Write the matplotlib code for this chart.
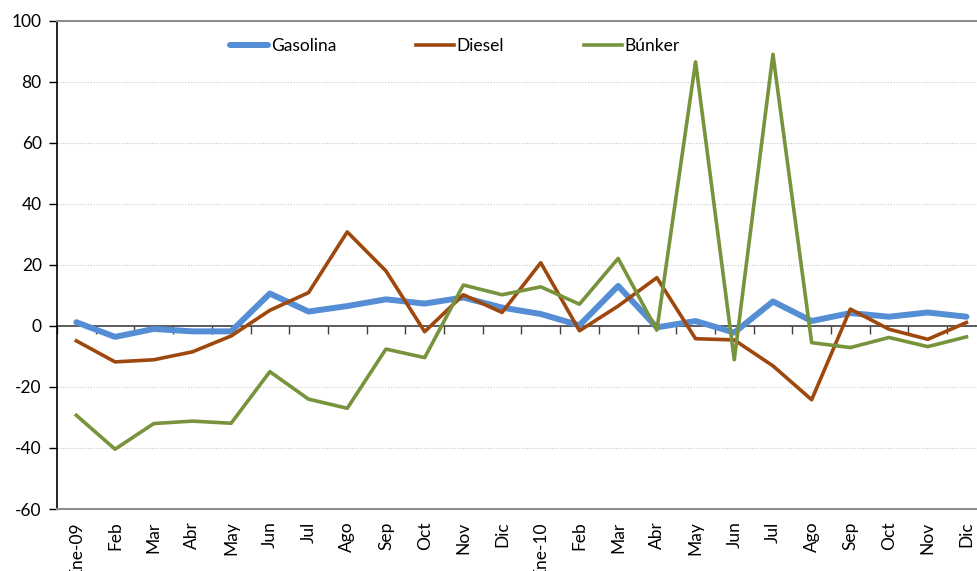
import matplotlib
matplotlib.use("Agg")
import matplotlib.pyplot as plt
import numpy as np

categories = ["Ene-09", "Feb", "Mar", "Abr", "May", "Jun", "Jul", "Ago", "Sep", "Oct", "Nov", "Dic",
              "Ene-10", "Feb", "Mar", "Abr", "May", "Jun", "Jul", "Ago", "Sep", "Oct", "Nov", "Dic"]
gasolina = [1.2, -3.6, -1.0, -1.8, -1.8, 10.6, 4.7, 6.5, 8.7, 7.3, 9.3, 6.0,
            3.9, 0.2, 13.1, -0.5, 1.6, -2.2, 8.0, 1.6, 4.2, 3.0, 4.4, 3.0]
diesel = [-4.9, -11.8, -11.1, -8.5, -3.3, 5.1, 10.9, 30.8, 18.0, -1.9, 10.2, 4.4,
          20.7, -1.6, 6.5, 15.8, -4.2, -4.6, -13.1, -24.2, 5.5, -1.1, -4.4, 1.1]
bunker = [-29.3, -40.4, -32.0, -31.2, -31.9, -15.0, -24.0, -27.0, -7.6, -10.4, 13.4, 10.2,
          12.8, 7.1, 22.1, -1.4, 86.5, -11.1, 89.0, -5.5, -7.1, -3.8, -6.8, -3.6]
series_names = ["Gasolina", "Diesel", "Búnker"]
yticks = [-60, -40, -20, 0, 20, 40, 60, 80, 100]

plt.rcParams['font.family'] = ['Lato', 'DejaVu Sans']

fig = plt.figure(figsize=(9.77, 5.71), dpi=100)
W, H = 977, 571
left, right, top, bottom = 57, 977, 20.7, 509
ax = fig.add_axes([left / W, (H - bottom) / H, (right - left) / W, (bottom - top) / H])

x = np.arange(len(categories))
ax.plot(x, gasolina, color="#558ED5", lw=4.3, label=series_names[0], solid_capstyle="round", solid_joinstyle="round", zorder=3)
ax.plot(x, diesel, color="#9E480E", lw=2.6, label=series_names[1], zorder=4)
ax.plot(x, bunker, color="#77933C", lw=2.6, label=series_names[2], zorder=5)

ax.set_ylim(-60, 100)
ax.set_xlim(-0.5, -0.5 + (right - left) / 38.7)
ax.set_yticks(yticks)
ax.set_yticklabels([str(v) for v in yticks], fontsize=12.5)
ax.tick_params(axis="y", length=6, width=1, pad=5, color="black")

for v in yticks:
    if v not in (-60, 0, 100):
        ax.axhline(v, color="#c8c8c8", lw=0.8, ls=(0, (1, 1.5)), zorder=1)

ax.set_xticks(x)
ax.set_xticklabels(categories, rotation=90, fontsize=12.5, va="top", ha="center")
ax.tick_params(axis="x", length=0, pad=9)

for s in ["top", "bottom"]:
    ax.spines[s].set_color("#8c8c8c")
    ax.spines[s].set_linewidth(1.5)
ax.spines["right"].set_visible(False)
ax.spines["left"].set_color("black")
ax.spines["left"].set_linewidth(1.2)

sec = ax.secondary_xaxis(60 / 160)
sec.set_xticks(np.arange(len(categories) + 1) - 0.5)
sec.set_xticklabels([])
sec.tick_params(axis="x", direction="out", length=6, width=1, color="#404040")
sec.spines["bottom"].set_color("#404040")
sec.spines["bottom"].set_linewidth(1.2)

leg = ax.legend(loc="center", bbox_to_anchor=((455 - left) / (right - left), (bottom - 46) / (bottom - top)),
                ncol=3, frameon=False, fontsize=12.5, handlelength=2.2, handletextpad=0.15,
                columnspacing=4.6)

fig.savefig("out.png", dpi=100)
